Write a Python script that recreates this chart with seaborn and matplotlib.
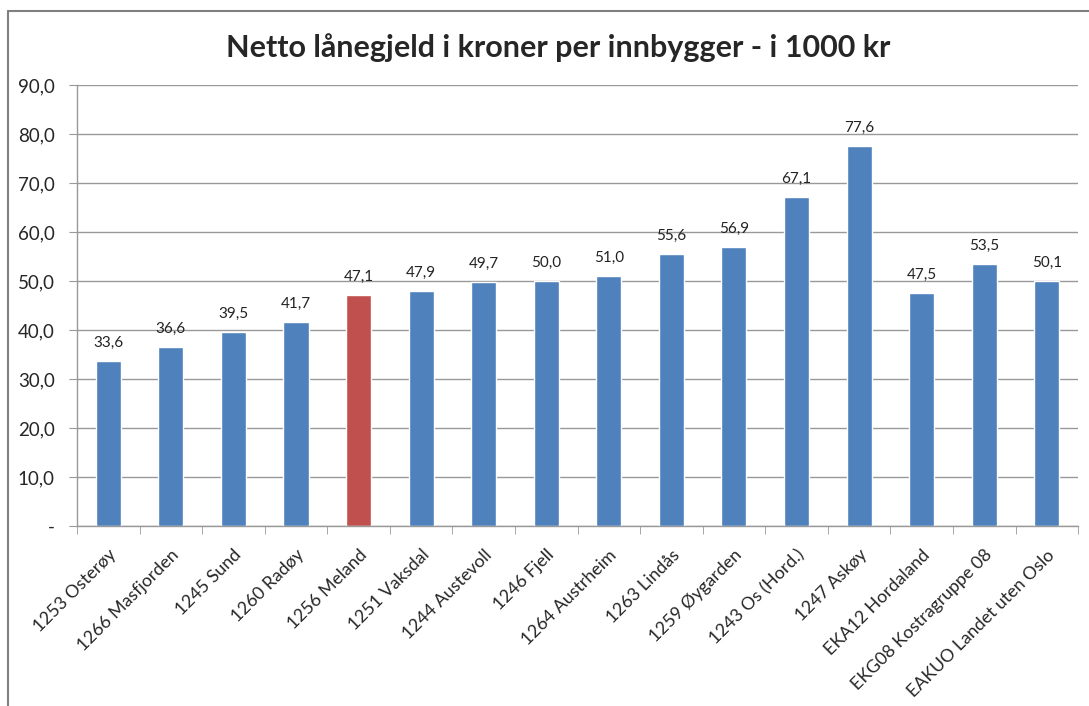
import matplotlib
matplotlib.use("Agg")
import matplotlib.pyplot as plt
import seaborn as sns
import pandas as pd
import numpy as np
from matplotlib.lines import Line2D

categories = ["1253 Osterøy", "1266 Masfjorden", "1245 Sund", "1260 Radøy", "1256 Meland",
              "1251 Vaksdal", "1244 Austevoll", "1246 Fjell", "1264 Austrheim", "1263 Lindås",
              "1259 Øygarden", "1243 Os (Hord.)", "1247 Askøy", "EKA12 Hordaland",
              "EKG08 Kostragruppe 08", "EAKUO Landet uten Oslo"]
values = [33.6, 36.6, 39.5, 41.7, 47.1, 47.9, 49.7, 50.0, 51.0, 55.6, 56.9, 67.1, 77.6, 47.5, 53.5, 50.1]
highlight = "1256 Meland"
yticks = [0, 10, 20, 30, 40, 50, 60, 70, 80, 90]
title = "Netto lånegjeld i kroner per innbygger - i 1000 kr"

sns.set_style("white")
plt.rcParams['font.family'] = ['Lato', 'DejaVu Sans']

BLUE = "#4F81BD"
RED = "#C0504D"
palette = [RED if c == highlight else BLUE for c in categories]

df = pd.DataFrame({"cat": categories, "val": values})

fig = plt.figure(figsize=(10.89, 7.06), dpi=100)
ax = fig.add_axes([0.0707, 0.255, 0.9193, 0.6245])
sns.barplot(data=df, x="cat", y="val", hue="cat", palette=palette, legend=False,
            width=0.4, ax=ax, saturation=1)

ax.set_ylim(0, 90)
ax.set_xlim(-0.5, len(categories) - 0.5)
ax.set_yticks(yticks)
ax.set_yticklabels(["-" if v == 0 else f"{v:.1f}".replace(".", ",") for v in yticks], fontsize=13.5)
ax.yaxis.grid(True, color="#999999", linewidth=1)
ax.set_axisbelow(True)
for s in ["top", "right"]:
    ax.spines[s].set_visible(False)
for s in ["left", "bottom"]:
    ax.spines[s].set_color("#999999")
    ax.spines[s].set_linewidth(1)
ax.tick_params(axis="y", length=6, color="#999999", pad=10, left=True)
ax.set_xlabel("")
ax.set_ylabel("")

# x ticks: labels at centers, tick marks at boundaries
ax.set_xticks(range(len(categories)))
ax.set_xticklabels(categories, rotation=45, ha="right", va="top", rotation_mode="anchor", fontsize=12.8)
ax.tick_params(axis="x", which="major", length=0, pad=15)
ax.set_xticks(np.arange(-0.5, len(categories), 1), minor=True)
ax.tick_params(axis="x", which="minor", length=6, color="#999999", bottom=True)

for i, v in enumerate(values):
    ax.annotate(f"{v:.1f}".replace(".", ","), (i, v), xytext=(0, 8), textcoords="offset points",
                ha="center", va="bottom", fontsize=11, color="#222222")

fig.text(0.513, 0.932, title, ha="center", va="center", fontsize=22, fontweight="bold")

# chart frame (left and top)
fig.add_artist(Line2D([0.0075, 0.0075], [0, 0.985], color="#808080", linewidth=1.5, transform=fig.transFigure))
fig.add_artist(Line2D([0.0075, 1.0], [0.985, 0.985], color="#808080", linewidth=1.5, transform=fig.transFigure))

fig.savefig("out.png", dpi=100)
